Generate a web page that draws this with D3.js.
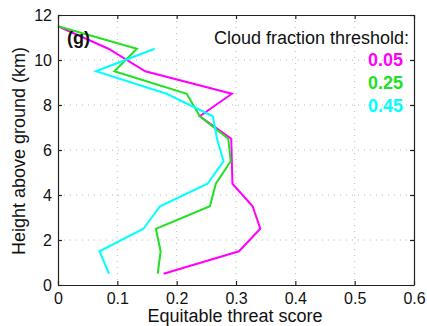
<!DOCTYPE html>
<html>
<head>
<meta charset="utf-8">
<script src="https://cdn.jsdelivr.net/npm/d3@7"></script>
<style>
  body { margin: 0; background: #fff; }
  svg text { font-family: "Liberation Sans", Arial, Helvetica, sans-serif; fill: #111; }
</style>
</head>
<body>
<svg id="drawing_region"></svg>
<script>
// heights (km) of the layer centres
const heights = [0.5, 1.5, 2.5, 3.5, 4.5, 5.5, 6.5, 7.5, 8.5, 9.5, 10.5, 11.5];
// equitable threat score for each cloud fraction threshold
const ets005 = [0.178, 0.305, 0.341, 0.328, 0.294, 0.293, 0.292, 0.239, 0.293, 0.147, 0.085, 0.0];
const ets025 = [0.168, 0.173, 0.165, 0.256, 0.266, 0.291, 0.287, 0.239, 0.217, 0.095, 0.133, 0.0];
const ets045 = [0.086, 0.070, 0.144, 0.172, 0.252, 0.279, 0.268, 0.261, 0.183, 0.064, 0.163];
const thresholds = ["0.05", "0.25", "0.45"];
const colors = ["#ff00ff", "#22e022", "#00ffff"];
const xTicks = [0, 0.1, 0.2, 0.3, 0.4, 0.5, 0.6];
const yTicks = [0, 2, 4, 6, 8, 10, 12];

const config = {
    width: 427,
    height: 326,
    margin: {top: 15, right: 13, bottom: 41, left: 58}
};

const svg = d3.select('#drawing_region')
    .attr('width', config.width)
    .attr('height', config.height);

const inner_width = config.width - config.margin.left - config.margin.right;
const inner_height = config.height - config.margin.top - config.margin.bottom;

const chart = svg.append('g')
    .attr('transform', `translate(${config.margin.left}, ${config.margin.top})`);

const xscale = d3.scaleLinear().domain([0, 0.6]).range([0, inner_width]);
const yscale = d3.scaleLinear().domain([0, 12]).range([inner_height, 0]);

// dotted grid
chart.append('g').selectAll('line').data(xTicks.slice(1, -1)).enter()
    .append('line')
    .attr('x1', d => xscale(d)).attr('x2', d => xscale(d))
    .attr('y1', 0).attr('y2', inner_height)
    .attr('stroke', '#b8b8b8').attr('stroke-dasharray', '1,5');
chart.append('g').selectAll('line').data(yTicks.slice(1, -1)).enter()
    .append('line')
    .attr('y1', d => yscale(d)).attr('y2', d => yscale(d))
    .attr('x1', 0).attr('x2', inner_width)
    .attr('stroke', '#b8b8b8').attr('stroke-dasharray', '1,5');

// profiles
const line = d3.line()
    .x(d => xscale(d[0]))
    .y(d => yscale(d[1]));
[ets005, ets025, ets045].forEach((vals, i) => {
    chart.append('path')
        .datum(vals.map((v, j) => [v, heights[j]]))
        .attr('d', line)
        .attr('fill', 'none')
        .attr('stroke', colors[i])
        .attr('stroke-width', 2);
});

// axes, ticks pointing inside
const fmt = d => d === 0 ? "0" : d3.format(".1f")(d);
const xaxis = d3.axisBottom(xscale).tickValues(xTicks).tickFormat(fmt)
    .tickSizeInner(-4).tickSizeOuter(0).tickPadding(8);
const yaxis = d3.axisLeft(yscale).tickValues(yTicks)
    .tickSizeInner(-4).tickSizeOuter(0).tickPadding(6);
const xaxis_top = d3.axisTop(xscale).tickValues(xTicks).tickFormat("")
    .tickSizeInner(-4).tickSizeOuter(0);
const yaxis_right = d3.axisRight(yscale).tickValues(yTicks).tickFormat("")
    .tickSizeInner(-4).tickSizeOuter(0);

const xg = chart.append('g').attr('transform', `translate(0, ${inner_height})`).call(xaxis);
const yg = chart.append('g').call(yaxis);
const tg = chart.append('g').call(xaxis_top);
const rg = chart.append('g').attr('transform', `translate(${inner_width}, 0)`).call(yaxis_right);

[xg, yg, tg, rg].forEach(g => {
    g.selectAll('path, line').attr('stroke', '#222').attr('stroke-width', 1.2);
    g.selectAll('text').attr('font-size', 16).attr('fill', '#111')
        .style('font-family', '"Liberation Sans", Arial, sans-serif');
});

// axis titles
svg.append('text')
    .attr('x', config.margin.left + inner_width / 2 - 1)
    .attr('y', 322)
    .attr('text-anchor', 'middle')
    .attr('font-size', 18)
    .text('Equitable threat score');

svg.append('text')
    .attr('transform', `translate(25, ${config.margin.top + inner_height / 2 + 1}) rotate(-90)`)
    .attr('text-anchor', 'middle')
    .attr('font-size', 18)
    .text('Height above ground (km)');

// panel letter
chart.append('text')
    .attr('x', 9).attr('y', 29)
    .attr('font-size', 18).attr('font-weight', 'bold')
    .text('(g)');

// legend
chart.append('text')
    .attr('x', inner_width - 5).attr('y', 29)
    .attr('text-anchor', 'end')
    .attr('font-size', 18)
    .text('Cloud fraction threshold:');

chart.selectAll('.legend').data(thresholds).enter()
    .append('text')
    .attr('class', 'legend')
    .attr('x', inner_width - 11)
    .attr('y', (d, i) => 51 + i * 23)
    .attr('text-anchor', 'end')
    .attr('font-size', 18).attr('font-weight', 'bold')
    .style('fill', (d, i) => colors[i])
    .text(d => d);
</script>
</body>
</html>
